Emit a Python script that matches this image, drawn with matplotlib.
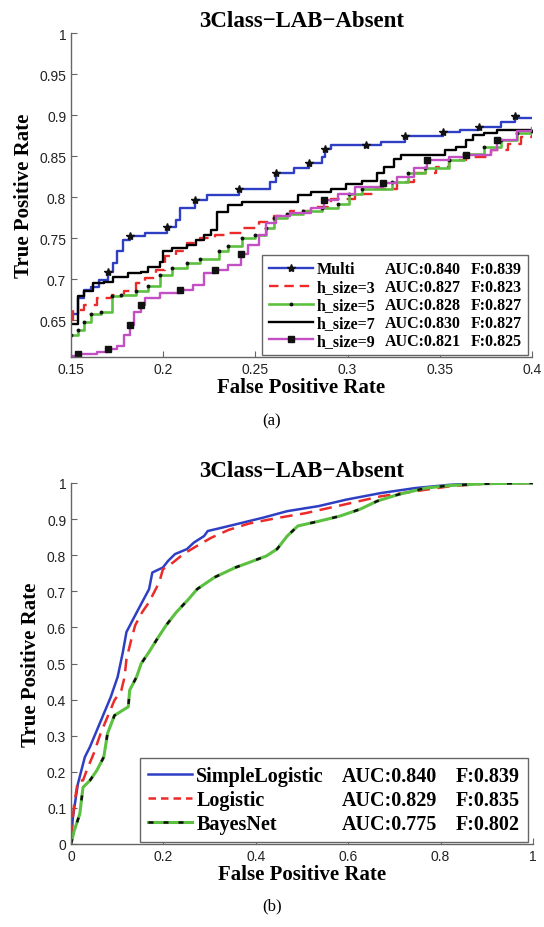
import matplotlib
matplotlib.use("Agg")
import matplotlib.pyplot as plt
from matplotlib.lines import Line2D
from matplotlib.ticker import FuncFormatter

plt.rcParams.update({
    "font.family": ["Liberation Sans", "DejaVu Sans"],
    "axes.linewidth": 1.0,
})
SERIF = ["Liberation Serif", "DejaVu Serif"]

# ---------------- data: panel (a) ----------------
multi_x = [0.150, 0.154, 0.157, 0.161, 0.165, 0.170, 0.173, 0.175, 0.178, 0.182, 0.190,
           0.202, 0.207, 0.209, 0.217, 0.224, 0.241, 0.258, 0.261, 0.271, 0.279, 0.286,
           0.288, 0.291, 0.310, 0.318, 0.331, 0.342, 0.352, 0.361, 0.371, 0.383, 0.391,
           0.393, 0.400]
multi_y = [0.658, 0.677, 0.687, 0.690, 0.699, 0.709, 0.719, 0.734, 0.748, 0.752, 0.756,
           0.764, 0.772, 0.787, 0.796, 0.802, 0.810, 0.818, 0.829, 0.835, 0.841, 0.849,
           0.859, 0.863, 0.864, 0.867, 0.874, 0.875, 0.879, 0.882, 0.886, 0.892, 0.899,
           0.896, 0.896]
multi_marks = [5, 9, 11, 14, 16, 18, 20, 22, 24, 26, 28, 30, 32]

h3_x = [0.150, 0.151, 0.157, 0.164, 0.172, 0.179, 0.185, 0.190, 0.196, 0.201, 0.207,
        0.213, 0.220, 0.228, 0.235, 0.243, 0.252, 0.260, 0.269, 0.280, 0.291, 0.304,
        0.314, 0.327, 0.336, 0.348, 0.355, 0.364, 0.378, 0.387, 0.394, 0.400]
h3_y = [0.650, 0.662, 0.668, 0.677, 0.681, 0.685, 0.695, 0.701, 0.711, 0.728, 0.734,
        0.744, 0.750, 0.754, 0.756, 0.762, 0.770, 0.777, 0.783, 0.788, 0.798, 0.804,
        0.810, 0.818, 0.829, 0.837, 0.845, 0.849, 0.857, 0.865, 0.873, 0.880]

h5_x = [0.150, 0.154, 0.157, 0.161, 0.166, 0.172, 0.177, 0.185, 0.192, 0.198, 0.205,
        0.213, 0.220, 0.230, 0.235, 0.243, 0.250, 0.256, 0.260, 0.267, 0.276, 0.286,
        0.295, 0.301, 0.308, 0.324, 0.333, 0.342, 0.355, 0.363, 0.374, 0.383, 0.392,
        0.400]
h5_y = [0.632, 0.638, 0.648, 0.658, 0.660, 0.679, 0.681, 0.685, 0.691, 0.705, 0.713,
        0.719, 0.725, 0.734, 0.740, 0.750, 0.754, 0.762, 0.774, 0.779, 0.783, 0.787,
        0.792, 0.804, 0.810, 0.818, 0.829, 0.835, 0.845, 0.853, 0.861, 0.869, 0.878,
        0.880]

h7_x = [0.150, 0.154, 0.157, 0.162, 0.168, 0.173, 0.181, 0.188, 0.192, 0.198, 0.200,
        0.205, 0.213, 0.218, 0.222, 0.226, 0.229, 0.235, 0.243, 0.267, 0.273, 0.280,
        0.291, 0.299, 0.308, 0.316, 0.320, 0.325, 0.329, 0.346, 0.353, 0.359, 0.364,
        0.368, 0.374, 0.381, 0.400]
h7_y = [0.645, 0.679, 0.685, 0.695, 0.697, 0.703, 0.707, 0.709, 0.715, 0.721, 0.734,
        0.738, 0.742, 0.748, 0.754, 0.760, 0.782, 0.790, 0.794, 0.794, 0.802, 0.806,
        0.810, 0.816, 0.820, 0.829, 0.837, 0.846, 0.851, 0.851, 0.857, 0.861, 0.869,
        0.876, 0.878, 0.882, 0.882]

h9_x = [0.150, 0.154, 0.164, 0.170, 0.175, 0.179, 0.182, 0.184, 0.188, 0.190, 0.198,
        0.209, 0.216, 0.222, 0.228, 0.235, 0.242, 0.246, 0.252, 0.256, 0.261, 0.269,
        0.280, 0.287, 0.295, 0.304, 0.319, 0.327, 0.336, 0.343, 0.355, 0.364, 0.378,
        0.381, 0.392, 0.400]
h9_y = [0.606, 0.609, 0.611, 0.615, 0.619, 0.632, 0.644, 0.660, 0.668, 0.677, 0.683,
        0.687, 0.693, 0.707, 0.711, 0.717, 0.730, 0.742, 0.754, 0.768, 0.777, 0.781,
        0.787, 0.796, 0.804, 0.812, 0.817, 0.824, 0.835, 0.845, 0.849, 0.851, 0.857,
        0.869, 0.880, 0.884]
h9_marks = [1, 3, 6, 8, 11, 14, 16, 23, 26, 29, 31, 33]

names_a = ["Multi", "h_size=3", "h_size=5", "h_size=7", "h_size=9"]
auc_a = ["AUC:0.840", "AUC:0.827", "AUC:0.828", "AUC:0.830", "AUC:0.821"]
f_a = ["F:0.839", "F:0.823", "F:0.827", "F:0.827", "F:0.825"]

# ---------------- data: panel (b) ----------------
sl_x = [0.000, 0.004, 0.015, 0.030, 0.041, 0.056, 0.071, 0.086, 0.101, 0.112, 0.120,
        0.135, 0.154, 0.169, 0.176, 0.199, 0.210, 0.225, 0.251, 0.266, 0.288, 0.296,
        0.326, 0.371, 0.416, 0.468, 0.536, 0.596, 0.670, 0.745, 0.820, 0.895, 1.000]
sl_y = [0.000, 0.074, 0.167, 0.241, 0.269, 0.315, 0.361, 0.407, 0.463, 0.530, 0.587,
        0.624, 0.670, 0.706, 0.752, 0.766, 0.784, 0.803, 0.817, 0.835, 0.853, 0.867,
        0.876, 0.890, 0.904, 0.922, 0.936, 0.954, 0.972, 0.986, 0.995, 1.000, 1.000]

lg_x = [0.000, 0.007, 0.015, 0.026, 0.034, 0.049, 0.064, 0.079, 0.094, 0.109, 0.116,
        0.120, 0.131, 0.139, 0.154, 0.169, 0.191, 0.199, 0.221, 0.243, 0.273, 0.303,
        0.341, 0.386, 0.446, 0.506, 0.566, 0.625, 0.670, 0.745, 0.820, 0.895, 1.000]
lg_y = [0.019, 0.111, 0.176, 0.176, 0.204, 0.250, 0.306, 0.352, 0.398, 0.426, 0.463,
        0.512, 0.569, 0.606, 0.642, 0.670, 0.725, 0.761, 0.780, 0.803, 0.826, 0.848,
        0.870, 0.888, 0.903, 0.916, 0.933, 0.950, 0.963, 0.977, 0.991, 0.998, 1.000]

bn_x = [0.000, 0.007, 0.019, 0.026, 0.041, 0.056, 0.071, 0.079, 0.094, 0.124, 0.127,
        0.142, 0.152, 0.169, 0.187, 0.206, 0.228, 0.255, 0.273, 0.311, 0.356, 0.386,
        0.423, 0.446, 0.468, 0.491, 0.536, 0.581, 0.625, 0.663, 0.708, 0.768, 0.820,
        0.895, 1.000]
bn_y = [0.000, 0.037, 0.083, 0.157, 0.176, 0.204, 0.241, 0.306, 0.356, 0.380, 0.426,
        0.463, 0.500, 0.532, 0.569, 0.606, 0.642, 0.679, 0.706, 0.739, 0.766, 0.780,
        0.798, 0.817, 0.853, 0.881, 0.894, 0.908, 0.927, 0.950, 0.968, 0.986, 0.993,
        0.998, 1.000]

names_b = ["SimpleLogistic", "Logistic", "BayesNet"]
auc_b = ["AUC:0.840", "AUC:0.829", "AUC:0.775"]
f_b = ["F:0.839", "F:0.835", "F:0.802"]

BLUE = "#2f3fc4"
RED = "#ec2a2a"
GREEN = "#5cc040"
MAGENTA = "#c24fc4"
SPINE = "#666666"
INK = "#111111"

fig = plt.figure(figsize=(5.44, 9.28), dpi=100)
ax1 = fig.add_axes([71 / 544, 1 - 358 / 928, 461 / 544, 324 / 928])
ax2 = fig.add_axes([71 / 544, 1 - 845 / 928, 462 / 544, 361 / 928])


def style_axes(ax):
    for s in ["top", "right"]:
        ax.spines[s].set_visible(False)
    for s in ["left", "bottom"]:
        ax.spines[s].set_color(SPINE)
    ax.tick_params(direction="in", length=4, width=0.8, color=SPINE,
                   labelsize=10, labelcolor="#222222")
    ax.xaxis.set_major_formatter(FuncFormatter(lambda v, p: f"{v:g}"))
    ax.yaxis.set_major_formatter(FuncFormatter(lambda v, p: f"{v:g}"))


def legend3(ax, handles, names, aucs, fs, size, anchor, hl, colsp, lsp):
    # three columns: curve name | AUC | F, the last two with empty handles
    blank = Line2D([], [], linestyle="none")
    hs = list(handles) + [blank] * (2 * len(names))
    labels = list(names) + list(aucs) + list(fs)
    leg = ax.legend(hs, labels, ncol=3, loc="lower right", bbox_to_anchor=anchor,
                    prop={"family": SERIF, "weight": "bold", "size": size},
                    handlelength=hl, handletextpad=0.2, columnspacing=colsp,
                    labelspacing=lsp, borderpad=0.4, borderaxespad=0.1,
                    frameon=True, fancybox=False, framealpha=1, edgecolor=SPINE)
    leg.get_frame().set_linewidth(1.0)
    return leg


def labels(ax):
    ax.set_title("3Class\u2212LAB\u2212Absent", family=SERIF, weight="bold", size=16.5, pad=5)
    ax.set_xlabel("False Positive Rate", family=SERIF, weight="bold", size=15, labelpad=1)
    ax.set_ylabel("True Positive Rate", family=SERIF, weight="bold", size=15, labelpad=4)


# ---------- panel (a) ----------
ax1.plot(multi_x, multi_y, drawstyle="steps-post", color=BLUE, lw=1.7)
ax1.plot([multi_x[i] for i in multi_marks], [multi_y[i] for i in multi_marks],
         linestyle="none", marker="*", ms=6, color=INK)
ax1.plot(h3_x, h3_y, drawstyle="steps-post", color=RED, lw=1.7, dashes=(5, 3))
ax1.plot(h5_x, h5_y, drawstyle="steps-post", color=GREEN, lw=1.9)
ax1.plot(h5_x, h5_y, linestyle="none", marker="o", ms=1.8, color=INK)
ax1.plot(h7_x, h7_y, drawstyle="steps-post", color="black", lw=1.7)
ax1.plot(h9_x, h9_y, drawstyle="steps-post", color=MAGENTA, lw=1.7)
ax1.plot([h9_x[i] for i in h9_marks], [h9_y[i] for i in h9_marks],
         linestyle="none", marker="s", ms=4.5, color=INK)

seg = ([0, 0.5, 1], [0, 0, 0])
hA = [
    Line2D(*seg, color=BLUE, lw=1.7, marker="*", ms=6, mfc=INK, mec=INK, markevery=[1]),
    Line2D(*seg, color=RED, lw=1.7, dashes=(4, 2.5)),
    Line2D([0, 0.25, 0.5, 0.75, 1], [0] * 5, color=GREEN, lw=1.9, marker="o", ms=1.8,
           mfc=INK, mec=INK, markevery=[1, 2, 3]),
    Line2D(*seg, color="black", lw=1.7),
    Line2D(*seg, color=MAGENTA, lw=1.7, marker="s", ms=4.5, mfc=INK, mec=INK, markevery=[1]),
]

ax1.set_xlim(0.15, 0.4)
ax1.set_ylim(0.605, 1.0)
ax1.set_xticks([0.15, 0.2, 0.25, 0.3, 0.35, 0.4])
ax1.set_yticks([0.65, 0.7, 0.75, 0.8, 0.85, 0.9, 0.95, 1.0])
style_axes(ax1)
labels(ax1)
legend3(ax1, hA, names_a, auc_a, f_a, 11.5, (0.995, 0.0), 2.8, -2.4, 0.12)

# ---------- panel (b) ----------
ax2.plot(sl_x, sl_y, color=BLUE, lw=1.8)
ax2.plot(lg_x, lg_y, color=RED, lw=1.8, dashes=(5, 3))
ax2.plot(bn_x, bn_y, color=GREEN, lw=2.2)
ax2.plot(bn_x, bn_y, color=INK, lw=1.8, dashes=(2, 7))

hB = [
    Line2D([], [], color=BLUE, lw=1.8),
    Line2D([], [], color=RED, lw=1.8, dashes=(3, 2)),
    (Line2D([], [], color=GREEN, lw=2.2), Line2D([], [], color=INK, lw=1.8, dashes=(2, 4))),
]

ax2.set_xlim(0, 1)
ax2.set_ylim(0, 1)
ax2.set_xticks([0, 0.2, 0.4, 0.6, 0.8, 1.0])
ax2.set_yticks([i / 10 for i in range(11)])
style_axes(ax2)
labels(ax2)
legend3(ax2, hB, names_b, auc_b, f_b, 14.5, (0.993, 0.0), 2.2, -1.5, 0.2)

fig.text(272 / 544, 1 - 421 / 928, "(a)", family=SERIF, size=12, ha="center", va="center")
fig.text(272 / 544, 1 - 906 / 928, "(b)", family=SERIF, size=12, ha="center", va="center")

fig.savefig("out.png", dpi=100)
